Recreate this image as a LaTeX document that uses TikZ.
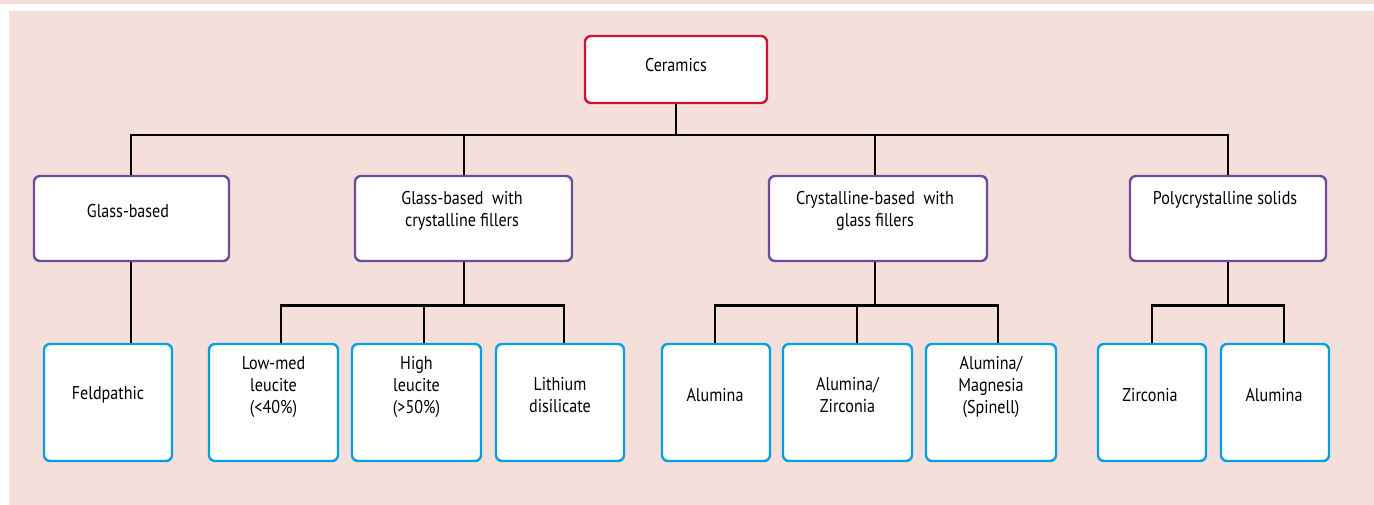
\documentclass[tikz,border=0pt]{standalone}
\usepackage{fontspec}
\setmainfont[FakeStretch=0.87]{PT Sans}
\definecolor{bgpink}{RGB}{244,223,219}
\definecolor{cerred}{RGB}{200,20,50}
\definecolor{catpurple}{RGB}{108,76,156}
\definecolor{leafblue}{RGB}{0,160,226}

\begin{document}
\begin{tikzpicture}[x=1pt,y=-1pt,
  box/.style={draw,fill=white,rounded corners=6pt,line width=2.4pt,inner sep=0pt},
  topbox/.style={box,draw=cerred,minimum width=182pt,minimum height=67pt},
  catbox/.style={box,draw=catpurple,minimum height=85pt},
  leafbox/.style={box,draw=leafblue,minimum height=117pt},
  txt/.style={inner sep=0pt,align=center,font=\fontsize{18.5}{22}\selectfont},
  link/.style={line width=2.7pt}]

  \useasboundingbox (0,0) rectangle (1374,504);
  \fill[bgpink] (0,-5) rectangle (1380,4);
  \fill[bgpink] (9,11) rectangle (1380,510);

  % top
  \node[topbox] (ceramics) at (676,69.5) {};
  \node[txt] (ceramics-t) at (676,65) {Ceramics};

  % categories
  \node[catbox,minimum width=195pt] (glass) at (131.5,218.5) {};
  \node[catbox,minimum width=217pt] (gwf) at (463.5,218.5) {};
  \node[catbox,minimum width=218pt] (cwg) at (878,218.5) {};
  \node[catbox,minimum width=196pt] (poly) at (1228,218.5) {};
  \node[txt] (glass-t) at (128,211) {Glass-based};
  \node[txt] (gwf-t) at (462,211) {Glass-based~ with\\crystalline fillers};
  \node[txt] (cwg-t) at (875,211) {Crystalline-based~ with\\glass fillers};
  \node[txt] (poly-t) at (1225,200) {Polycrystalline solids};

  % leaves
  \node[leafbox,minimum width=128pt] (feld) at (108,402.5) {};
  \node[leafbox,minimum width=129pt] (lowmed) at (273.5,402.5) {};
  \node[leafbox,minimum width=129pt] (high) at (416.5,402.5) {};
  \node[leafbox,minimum width=128pt] (lith) at (560,402.5) {};
  \node[leafbox,minimum width=108pt] (alu) at (716,402.5) {};
  \node[leafbox,minimum width=129pt] (aluzr) at (847.5,402.5) {};
  \node[leafbox,minimum width=130pt] (alumg) at (991,402.5) {};
  \node[leafbox,minimum width=108pt] (zr) at (1152,402.5) {};
  \node[leafbox,minimum width=108pt] (alu2) at (1275,402.5) {};
  \node[txt] (feld-t) at (108,395) {Feldpathic};
  \node[txt] (lowmed-t) at (273.5,387) {Low-med\\leucite\\(<40\%)};
  \node[txt] (high-t) at (416.5,387) {High\\leucite\\(>50\%)};
  \node[txt] (lith-t) at (560,395.5) {Lithium\\disilicate};
  \node[txt] (alu-t) at (715,395) {Alumina};
  \node[txt] (aluzr-t) at (847.5,395.5) {Alumina/\\Zirconia};
  \node[txt] (alumg-t) at (991,387) {Alumina/\\Magnesia\\(Spinell)};
  \node[txt] (zr-t) at (1150,395) {Zirconia};
  \node[txt] (alu2-t) at (1274,395) {Alumina};

  % connectors
  \coordinate (bar) at (676,135);
  \coordinate (gbar) at (464,305.5);
  \coordinate (cbar) at (875,305.5);
  \coordinate (pbar) at (1228,305.5);
  \draw[link] (ceramics) -- (bar);
  \draw[link] ([xshift=-0.5pt]glass.north) |- (bar);
  \draw[link] ([xshift=0.5pt]gwf.north) |- (bar);
  \draw[link] ([xshift=-3pt]cwg.north) |- (bar);
  \draw[link] (poly.north) |- (bar);
  \draw[link] ([xshift=-0.5pt]glass.south) -- ([xshift=23pt]feld.north);
  \draw[link] ([xshift=0.5pt]gwf.south) -- (gbar);
  \draw[link] ([xshift=7.5pt]lowmed.north) |- (gbar);
  \draw[link] ([xshift=7.5pt]high.north) |- (gbar);
  \draw[link] ([xshift=4pt]lith.north) |- (gbar);
  \draw[link] ([xshift=-3pt]cwg.south) -- (cbar);
  \draw[link] ([xshift=-1pt]alu.north) |- (cbar);
  \draw[link] ([xshift=9.5pt]aluzr.north) |- (cbar);
  \draw[link] ([xshift=7pt]alumg.north) |- (cbar);
  \draw[link] (poly.south) -- (pbar);
  \draw[link] (zr.north) |- (pbar);
  \draw[link] ([xshift=9pt]alu2.north) |- (pbar);

\end{tikzpicture}
\end{document}
